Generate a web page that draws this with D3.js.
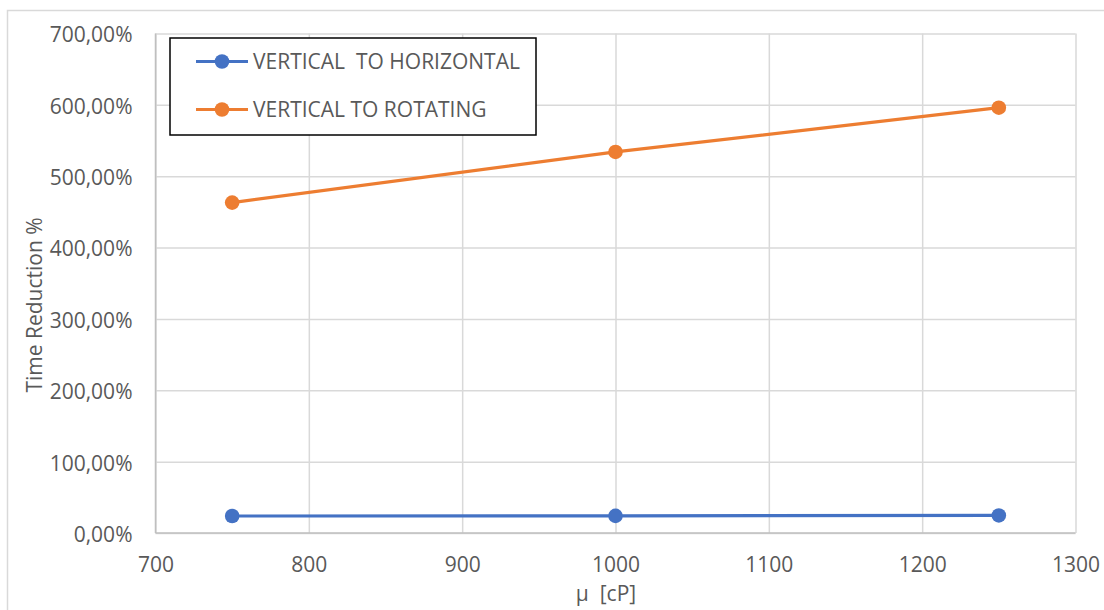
<!DOCTYPE html>
<html>
<head>
<meta charset="utf-8">
<script src="https://cdn.jsdelivr.net/npm/d3@7"></script>
<style>
  html, body { margin: 0; padding: 0; background: #fff; }
  svg { display: block; font-family: "Open Sans", sans-serif; }
  text { white-space: pre; }
</style>
</head>
<body>
<svg id="chart" width="1104" height="610"></svg>
<script>
// Viscosity values (cP) on the x axis
const viscosity = [750, 1000, 1250];
// Time reduction, in percent
const verticalToHorizontal = [23.8, 24.0, 24.6];
const verticalToRotating = [463, 534, 596];
const seriesNames = ["VERTICAL  TO HORIZONTAL", "VERTICAL TO ROTATING"];
const seriesColors = ["#4472C4", "#ED7D31"];
const xTicks = [700, 800, 900, 1000, 1100, 1200, 1300];
const yTicks = [0, 100, 200, 300, 400, 500, 600, 700];

const svg = d3.select("#chart");
const plot = { left: 155.5, right: 1075.5, top: 33.5, bottom: 533 };
const fontFamily = "'Open Sans', sans-serif";
const textColor = "#595959";
const fontSize = "21px";

const x = d3.scaleLinear().domain([700, 1300]).range([plot.left, plot.right]);
const y = d3.scaleLinear().domain([0, 700]).range([plot.bottom, plot.top]);

// Chart area frame
svg.append("rect")
  .attr("x", 7.5).attr("y", 10.5)
  .attr("width", 1120).attr("height", 620)
  .attr("fill", "none").attr("stroke", "#d9d9d9").attr("stroke-width", 1.5);

const fmt = v => d3.format(".2f")(v).replace(".", ",") + "%";

// Horizontal gridlines with tick labels
const yAxis = d3.axisLeft(y).tickValues(yTicks).tickSize(-(plot.right - plot.left)).tickFormat(fmt).tickPadding(23);
const gy = svg.append("g").attr("transform", `translate(${plot.left},0)`).call(yAxis);
gy.select(".domain").remove();
gy.selectAll(".tick line").attr("stroke", "#d9d9d9").attr("stroke-width", 1.5);
gy.selectAll(".tick text").attr("fill", textColor).attr("dy", "0.4em")
  .style("font-size", fontSize).style("font-family", fontFamily);

// Vertical gridlines with tick labels
const xAxis = d3.axisBottom(x).tickValues(xTicks).tickSize(-(plot.bottom - plot.top)).tickFormat(d3.format("d"));
const gx = svg.append("g").attr("transform", `translate(0,${plot.bottom})`).call(xAxis);
gx.select(".domain").remove();
gx.selectAll(".tick line").attr("stroke", "#d9d9d9").attr("stroke-width", 1.5);
gx.selectAll(".tick text").attr("fill", textColor).attr("y", 38.7).attr("dy", null)
  .style("font-size", fontSize).style("font-family", fontFamily);

// Axis lines (bottom and left slightly darker)
svg.append("line").attr("x1", plot.left).attr("x2", plot.right).attr("y1", plot.bottom).attr("y2", plot.bottom)
  .attr("stroke", "#bfbfbf").attr("stroke-width", 1.5);
svg.append("line").attr("x1", plot.left).attr("x2", plot.left).attr("y1", plot.top).attr("y2", plot.bottom)
  .attr("stroke", "#bfbfbf").attr("stroke-width", 1.5);

// Axis titles
svg.append("text")
  .attr("x", 606).attr("y", 601)
  .attr("text-anchor", "middle").attr("fill", textColor)
  .style("font-size", fontSize).text("μ  [cP]");
svg.append("text")
  .attr("transform", `translate(41.5,305) rotate(-90)`)
  .attr("text-anchor", "middle").attr("fill", textColor)
  .style("font-size", fontSize).text("Time Reduction %");

// Series lines and markers
const series = [verticalToHorizontal, verticalToRotating];
const line = d3.line().x((d, i) => x(viscosity[i])).y(d => y(d));
series.forEach((vals, s) => {
  svg.append("path").datum(vals).attr("d", line)
    .attr("fill", "none").attr("stroke", seriesColors[s]).attr("stroke-width", 3.2)
    .attr("stroke-linejoin", "round");
  svg.selectAll(null).data(vals).enter().append("circle")
    .attr("cx", (d, i) => x(viscosity[i])).attr("cy", d => y(d)).attr("r", 7.3)
    .attr("fill", seriesColors[s]);
});

// Legend
const legend = svg.append("g");
legend.append("rect").attr("x", 170).attr("y", 38).attr("width", 366).attr("height", 97)
  .attr("fill", "#fff").attr("stroke", "#000").attr("stroke-width", 1.5);
seriesNames.forEach((name, s) => {
  const ly = 61.5 + s * 48;
  legend.append("line").attr("x1", 196).attr("x2", 248).attr("y1", ly).attr("y2", ly)
    .attr("stroke", seriesColors[s]).attr("stroke-width", 3.2);
  legend.append("circle").attr("cx", 222).attr("cy", ly).attr("r", 7.3).attr("fill", seriesColors[s]);
  legend.append("text").attr("x", 253).attr("y", ly).attr("dy", "0.35em")
    .attr("fill", textColor).style("font-size", fontSize).text(name);
});
</script>
</body>
</html>
